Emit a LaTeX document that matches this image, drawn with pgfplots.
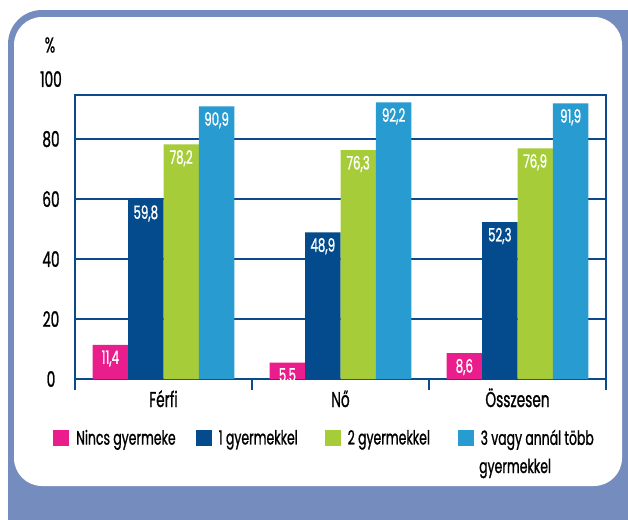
\documentclass[border=0pt]{standalone}
\usepackage{pgfplots}
\pgfplotsset{compat=1.18}
\usepackage{fontspec}
\setmainfont{Poppins}[FakeStretch=0.64, FakeBold=1]
\definecolor{cpink}{HTML}{E91E8C}
\definecolor{cdark}{HTML}{034B8C}
\definecolor{cgreen}{HTML}{A6CC3A}
\definecolor{clight}{HTML}{289BD0}
\definecolor{cframe}{HTML}{758DBE}
\definecolor{caxis}{HTML}{0B4A8C}
\begin{document}
\begin{tikzpicture}
\useasboundingbox (0bp,0bp) rectangle (628bp,-520bp);
\begin{scope}
\clip (0bp,0bp) rectangle (628bp,-520bp);
\fill[white] (0bp,0bp) rectangle (628bp,-520bp);
\fill[cframe, rounded corners=34bp] (8bp,-10bp) rectangle (680bp,-580bp);
\fill[white, rounded corners=28bp] (14bp,-17bp) rectangle (622bp,-486bp);
\end{scope}
\begin{axis}[
  at={(75bp,-379bp)}, anchor=south west,
  width=531bp, height=284bp, scale only axis,
  xmin=-0.5, xmax=2.5, ymin=0, ymax=94.7,
  ybar=0pt, bar width=35.4bp,
  xtick={0,1,2}, xticklabels={Férfi,Nő,Összesen},
  ytick={0,20,40,60,80},
  major tick length=0pt,
  ymajorgrids, grid style={caxis, line width=1.3bp},
  axis line style={caxis, line width=2.6bp},
  /pgf/number format/assume math mode=true,
  tick label style={font=\fontsize{21.5}{21.5}\selectfont, text=black},
  yticklabel style={anchor=center, xshift=-24bp},
  xticklabel style={anchor=base, yshift=-28bp},
  nodes near coords={\pgfmathprintnumber[fixed,fixed zerofill,precision=1,use comma]{\pgfplotspointmeta}},
  every node near coord/.append style={anchor=north, text=white, font=\fontsize{18.5}{18.5}\selectfont, inner ysep=5.5bp, inner xsep=1bp},
  clip=false,
  legend columns=4,
  legend cell align=left,
  legend image code/.code={\fill[#1] (0bp,-8bp) rectangle (16bp,8bp);},
  legend style={at={(axis description cs:-0.04143,-0.2077)}, anchor=west, draw=none, fill=none, inner sep=0pt,
    font=\fontsize{19.5}{19.5}\selectfont,
    cells={inner sep=0pt},
    /tikz/every odd column/.style={column sep=5bp},
    /tikz/every even column/.style={column sep=0bp}},
]
\addplot[fill=cpink, draw=none] coordinates {(0,11.4) (1,5.5) (2,8.6)};
\addplot[fill=cdark, draw=none] coordinates {(0,59.8) (1,48.9) (2,52.3)};
\addplot[fill=cgreen, draw=none] coordinates {(0,78.2) (1,76.3) (2,76.9)};
\addplot[fill=clight, draw=none] coordinates {(0,90.9) (1,92.2) (2,91.9)};
\legend{\makebox[117.5bp][l]{Nincs gyermeke}, \makebox[104bp][l]{1 gyermekkel}, \makebox[108bp][l]{2 gyermekkel}, 3 vagy annál több}
\draw[caxis, line width=2.6bp] (axis cs:-0.5,0) -- ++(0pt,-11bp);
\draw[caxis, line width=2.6bp] (axis cs:0.5,0) -- ++(0pt,-11bp);
\draw[caxis, line width=2.6bp] (axis cs:1.5,0) -- ++(0pt,-11bp);
\draw[caxis, line width=2.6bp] (axis cs:2.5,0) -- ++(0pt,-11bp);
\node[font=\fontsize{21.5}{21.5}\selectfont, anchor=center] at ([xshift=-24bp]axis cs:-0.5,100) {100};
\end{axis}
\node[font=\fontsize{21.5}{21.5}\selectfont] at (50bp,-45bp) {\%};
\node[font=\fontsize{19.5}{19.5}\selectfont, anchor=base west, inner sep=0pt] at (479bp,-473bp) {gyermekkel};
\end{tikzpicture}
\end{document}
